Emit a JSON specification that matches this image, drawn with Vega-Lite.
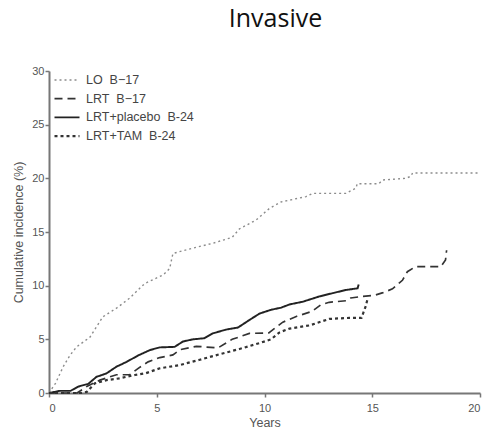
{
  "$schema": "https://vega.github.io/schema/vega-lite/v6.json",
  "width": 431,
  "height": 322,
  "autosize": "none",
  "padding": {"left": 49, "top": 71, "right": 6, "bottom": 38},
  "background": "white",
  "title": {"text": "Invasive", "font": "Open Sans", "fontSize": 25, "fontWeight": "normal", "color": "#111", "anchor": "middle", "dx": 11, "offset": 33},
  "datasets": {
    "curves": [
      {"series": "LO\u00a0\u00a0B\u221217", "years": 0, "pct": 0},
      {"series": "LO\u00a0\u00a0B\u221217", "years": 0.3, "pct": 0.9},
      {"series": "LO\u00a0\u00a0B\u221217", "years": 0.66, "pct": 2.45},
      {"series": "LO\u00a0\u00a0B\u221217", "years": 0.97, "pct": 3.5},
      {"series": "LO\u00a0\u00a0B\u221217", "years": 1.28, "pct": 4.3},
      {"series": "LO\u00a0\u00a0B\u221217", "years": 1.9, "pct": 5.2},
      {"series": "LO\u00a0\u00a0B\u221217", "years": 2.5, "pct": 7.1},
      {"series": "LO\u00a0\u00a0B\u221217", "years": 3.13, "pct": 7.9},
      {"series": "LO\u00a0\u00a0B\u221217", "years": 3.75, "pct": 8.85},
      {"series": "LO\u00a0\u00a0B\u221217", "years": 4.44, "pct": 10.2},
      {"series": "LO\u00a0\u00a0B\u221217", "years": 5.3, "pct": 11.0},
      {"series": "LO\u00a0\u00a0B\u221217", "years": 5.6, "pct": 11.6},
      {"series": "LO\u00a0\u00a0B\u221217", "years": 5.75, "pct": 13.0},
      {"series": "LO\u00a0\u00a0B\u221217", "years": 6.68, "pct": 13.5},
      {"series": "LO\u00a0\u00a0B\u221217", "years": 7.6, "pct": 13.95},
      {"series": "LO\u00a0\u00a0B\u221217", "years": 8.5, "pct": 14.5},
      {"series": "LO\u00a0\u00a0B\u221217", "years": 8.84, "pct": 15.3},
      {"series": "LO\u00a0\u00a0B\u221217", "years": 9.6, "pct": 16.1},
      {"series": "LO\u00a0\u00a0B\u221217", "years": 10.23, "pct": 17.2},
      {"series": "LO\u00a0\u00a0B\u221217", "years": 10.77, "pct": 17.8},
      {"series": "LO\u00a0\u00a0B\u221217", "years": 11.93, "pct": 18.3},
      {"series": "LO\u00a0\u00a0B\u221217", "years": 12.24, "pct": 18.6},
      {"series": "LO\u00a0\u00a0B\u221217", "years": 13.78, "pct": 18.6},
      {"series": "LO\u00a0\u00a0B\u221217", "years": 14.25, "pct": 19.1},
      {"series": "LO\u00a0\u00a0B\u221217", "years": 14.3, "pct": 19.5},
      {"series": "LO\u00a0\u00a0B\u221217", "years": 15.3, "pct": 19.5},
      {"series": "LO\u00a0\u00a0B\u221217", "years": 15.5, "pct": 19.85},
      {"series": "LO\u00a0\u00a0B\u221217", "years": 16.56, "pct": 20.0},
      {"series": "LO\u00a0\u00a0B\u221217", "years": 16.8, "pct": 20.2},
      {"series": "LO\u00a0\u00a0B\u221217", "years": 16.87, "pct": 20.5},
      {"series": "LO\u00a0\u00a0B\u221217", "years": 19.9, "pct": 20.5},

      {"series": "LRT\u00a0\u00a0B\u221217", "years": 0, "pct": 0},
      {"series": "LRT\u00a0\u00a0B\u221217", "years": 1.3, "pct": 0},
      {"series": "LRT\u00a0\u00a0B\u221217", "years": 1.75, "pct": 0.6},
      {"series": "LRT\u00a0\u00a0B\u221217", "years": 2.36, "pct": 1.2},
      {"series": "LRT\u00a0\u00a0B\u221217", "years": 3.13, "pct": 1.7},
      {"series": "LRT\u00a0\u00a0B\u221217", "years": 3.75, "pct": 1.7},
      {"series": "LRT\u00a0\u00a0B\u221217", "years": 4.14, "pct": 2.3},
      {"series": "LRT\u00a0\u00a0B\u221217", "years": 4.6, "pct": 2.9},
      {"series": "LRT\u00a0\u00a0B\u221217", "years": 5.14, "pct": 3.3},
      {"series": "LRT\u00a0\u00a0B\u221217", "years": 5.75, "pct": 3.55},
      {"series": "LRT\u00a0\u00a0B\u221217", "years": 6.1, "pct": 4.05},
      {"series": "LRT\u00a0\u00a0B\u221217", "years": 6.84, "pct": 4.35},
      {"series": "LRT\u00a0\u00a0B\u221217", "years": 7.84, "pct": 4.2},
      {"series": "LRT\u00a0\u00a0B\u221217", "years": 8.5, "pct": 5.0},
      {"series": "LRT\u00a0\u00a0B\u221217", "years": 9.3, "pct": 5.55},
      {"series": "LRT\u00a0\u00a0B\u221217", "years": 10.2, "pct": 5.6},
      {"series": "LRT\u00a0\u00a0B\u221217", "years": 10.85, "pct": 6.6},
      {"series": "LRT\u00a0\u00a0B\u221217", "years": 11.5, "pct": 7.15},
      {"series": "LRT\u00a0\u00a0B\u221217", "years": 12.2, "pct": 7.6},
      {"series": "LRT\u00a0\u00a0B\u221217", "years": 12.6, "pct": 8.2},
      {"series": "LRT\u00a0\u00a0B\u221217", "years": 13.0, "pct": 8.45},
      {"series": "LRT\u00a0\u00a0B\u221217", "years": 13.8, "pct": 8.6},
      {"series": "LRT\u00a0\u00a0B\u221217", "years": 14.0, "pct": 8.85},
      {"series": "LRT\u00a0\u00a0B\u221217", "years": 14.55, "pct": 9.0},
      {"series": "LRT\u00a0\u00a0B\u221217", "years": 15.1, "pct": 9.1},
      {"series": "LRT\u00a0\u00a0B\u221217", "years": 15.5, "pct": 9.35},
      {"series": "LRT\u00a0\u00a0B\u221217", "years": 15.94, "pct": 9.7},
      {"series": "LRT\u00a0\u00a0B\u221217", "years": 16.4, "pct": 10.5},
      {"series": "LRT\u00a0\u00a0B\u221217", "years": 16.63, "pct": 11.3},
      {"series": "LRT\u00a0\u00a0B\u221217", "years": 17.0, "pct": 11.77},
      {"series": "LRT\u00a0\u00a0B\u221217", "years": 18.18, "pct": 11.77},
      {"series": "LRT\u00a0\u00a0B\u221217", "years": 18.4, "pct": 12.4},
      {"series": "LRT\u00a0\u00a0B\u221217", "years": 18.45, "pct": 13.3},

      {"series": "LRT+placebo\u00a0\u00a0B-24", "years": 0, "pct": 0},
      {"series": "LRT+placebo\u00a0\u00a0B-24", "years": 0.5, "pct": 0.2},
      {"series": "LRT+placebo\u00a0\u00a0B-24", "years": 1.0, "pct": 0.2},
      {"series": "LRT+placebo\u00a0\u00a0B-24", "years": 1.36, "pct": 0.6},
      {"series": "LRT+placebo\u00a0\u00a0B-24", "years": 1.82, "pct": 0.85},
      {"series": "LRT+placebo\u00a0\u00a0B-24", "years": 2.2, "pct": 1.5},
      {"series": "LRT+placebo\u00a0\u00a0B-24", "years": 2.67, "pct": 1.83},
      {"series": "LRT+placebo\u00a0\u00a0B-24", "years": 3.13, "pct": 2.45},
      {"series": "LRT+placebo\u00a0\u00a0B-24", "years": 3.6, "pct": 2.9},
      {"series": "LRT+placebo\u00a0\u00a0B-24", "years": 4.14, "pct": 3.5},
      {"series": "LRT+placebo\u00a0\u00a0B-24", "years": 4.68, "pct": 4.0},
      {"series": "LRT+placebo\u00a0\u00a0B-24", "years": 5.14, "pct": 4.25},
      {"series": "LRT+placebo\u00a0\u00a0B-24", "years": 5.83, "pct": 4.3},
      {"series": "LRT+placebo\u00a0\u00a0B-24", "years": 6.22, "pct": 4.8},
      {"series": "LRT+placebo\u00a0\u00a0B-24", "years": 6.68, "pct": 5.0},
      {"series": "LRT+placebo\u00a0\u00a0B-24", "years": 7.2, "pct": 5.1},
      {"series": "LRT+placebo\u00a0\u00a0B-24", "years": 7.6, "pct": 5.55},
      {"series": "LRT+placebo\u00a0\u00a0B-24", "years": 8.2, "pct": 5.9},
      {"series": "LRT+placebo\u00a0\u00a0B-24", "years": 8.77, "pct": 6.1},
      {"series": "LRT+placebo\u00a0\u00a0B-24", "years": 9.3, "pct": 6.8},
      {"series": "LRT+placebo\u00a0\u00a0B-24", "years": 9.77, "pct": 7.4},
      {"series": "LRT+placebo\u00a0\u00a0B-24", "years": 10.3, "pct": 7.75},
      {"series": "LRT+placebo\u00a0\u00a0B-24", "years": 10.77, "pct": 7.95},
      {"series": "LRT+placebo\u00a0\u00a0B-24", "years": 11.16, "pct": 8.25},
      {"series": "LRT+placebo\u00a0\u00a0B-24", "years": 11.77, "pct": 8.5},
      {"series": "LRT+placebo\u00a0\u00a0B-24", "years": 12.55, "pct": 9.0},
      {"series": "LRT+placebo\u00a0\u00a0B-24", "years": 13.16, "pct": 9.3},
      {"series": "LRT+placebo\u00a0\u00a0B-24", "years": 13.78, "pct": 9.6},
      {"series": "LRT+placebo\u00a0\u00a0B-24", "years": 14.32, "pct": 9.75},
      {"series": "LRT+placebo\u00a0\u00a0B-24", "years": 14.37, "pct": 10.1},

      {"series": "LRT+TAM\u00a0\u00a0B-24", "years": 0, "pct": 0},
      {"series": "LRT+TAM\u00a0\u00a0B-24", "years": 1.5, "pct": 0},
      {"series": "LRT+TAM\u00a0\u00a0B-24", "years": 1.75, "pct": 0.1},
      {"series": "LRT+TAM\u00a0\u00a0B-24", "years": 2.13, "pct": 0.9},
      {"series": "LRT+TAM\u00a0\u00a0B-24", "years": 2.67, "pct": 1.2},
      {"series": "LRT+TAM\u00a0\u00a0B-24", "years": 3.29, "pct": 1.37},
      {"series": "LRT+TAM\u00a0\u00a0B-24", "years": 3.98, "pct": 1.68},
      {"series": "LRT+TAM\u00a0\u00a0B-24", "years": 4.5, "pct": 1.85},
      {"series": "LRT+TAM\u00a0\u00a0B-24", "years": 5.14, "pct": 2.3},
      {"series": "LRT+TAM\u00a0\u00a0B-24", "years": 6.06, "pct": 2.6},
      {"series": "LRT+TAM\u00a0\u00a0B-24", "years": 7.0, "pct": 3.1},
      {"series": "LRT+TAM\u00a0\u00a0B-24", "years": 7.9, "pct": 3.6},
      {"series": "LRT+TAM\u00a0\u00a0B-24", "years": 8.84, "pct": 4.1},
      {"series": "LRT+TAM\u00a0\u00a0B-24", "years": 9.77, "pct": 4.65},
      {"series": "LRT+TAM\u00a0\u00a0B-24", "years": 10.3, "pct": 5.0},
      {"series": "LRT+TAM\u00a0\u00a0B-24", "years": 10.7, "pct": 5.65},
      {"series": "LRT+TAM\u00a0\u00a0B-24", "years": 11.16, "pct": 6.0},
      {"series": "LRT+TAM\u00a0\u00a0B-24", "years": 12.1, "pct": 6.3},
      {"series": "LRT+TAM\u00a0\u00a0B-24", "years": 13.0, "pct": 6.9},
      {"series": "LRT+TAM\u00a0\u00a0B-24", "years": 13.94, "pct": 7.0},
      {"series": "LRT+TAM\u00a0\u00a0B-24", "years": 14.5, "pct": 7.0},
      {"series": "LRT+TAM\u00a0\u00a0B-24", "years": 14.7, "pct": 8.1},
      {"series": "LRT+TAM\u00a0\u00a0B-24", "years": 14.78, "pct": 8.75}
    ]
  },
  "data": {"name": "curves"},
  "mark": {"type": "line", "interpolate": "linear", "strokeCap": "butt"},
  "encoding": {
    "x": {
      "field": "years", "type": "quantitative",
      "scale": {"domain": [0, 20], "nice": false},
      "axis": {"title": "Years", "values": [0, 5, 10, 15, 20], "grid": false, "tickSize": 4, "domainColor": "#777", "domainWidth": 2, "tickColor": "#777", "tickWidth": 1.5, "labelFont": "Liberation Sans", "labelFontSize": 11, "labelColor": "#555", "labelPadding": 5, "titleFont": "Liberation Sans", "titleFontSize": 12.5, "titleFontWeight": "normal", "titleColor": "#555", "titlePadding": 3}
    },
    "y": {
      "field": "pct", "type": "quantitative",
      "scale": {"domain": [0, 30], "nice": false},
      "axis": {"title": "Cumulative incidence (%)", "values": [0, 5, 10, 15, 20, 25, 30], "grid": false, "tickSize": 4, "domainColor": "#777", "domainWidth": 2, "tickColor": "#777", "tickWidth": 1.5, "labelFont": "Liberation Sans", "labelFontSize": 11, "labelColor": "#555", "labelPadding": 1, "titleFont": "Liberation Sans", "titleFontSize": 12.5, "titleFontWeight": "normal", "titleColor": "#555", "titlePadding": 6}
    },
    "color": {
      "field": "series", "type": "ordinal",
      "scale": {"domain": ["LO\u00a0\u00a0B\u221217", "LRT\u00a0\u00a0B\u221217", "LRT+placebo\u00a0\u00a0B-24", "LRT+TAM\u00a0\u00a0B-24"], "range": ["#8c8c8c", "#333333", "#222222", "#333333"]},
      "legend": {"title": null, "orient": "none", "legendX": 4, "legendY": 1, "labelFont": "Liberation Sans", "labelFontSize": 12.5, "labelColor": "#444", "labelOffset": 5, "symbolType": "stroke", "symbolSize": 625, "clipHeight": 16, "rowPadding": 2.7, "padding": 0}
    },
    "strokeDash": {
      "field": "series", "type": "ordinal",
      "scale": {"domain": ["LO\u00a0\u00a0B\u221217", "LRT\u00a0\u00a0B\u221217", "LRT+placebo\u00a0\u00a0B-24", "LRT+TAM\u00a0\u00a0B-24"], "range": [[2, 3], [8, 5], [1, 0], [3, 3]]},
      "legend": {"title": null, "orient": "none", "legendX": 4, "legendY": 1, "labelFont": "Liberation Sans", "labelFontSize": 12.5, "labelColor": "#444", "labelOffset": 5, "symbolType": "stroke", "symbolSize": 625, "clipHeight": 16, "rowPadding": 2.7, "padding": 0}
    },
    "strokeWidth": {
      "field": "series", "type": "ordinal",
      "scale": {"domain": ["LO\u00a0\u00a0B\u221217", "LRT\u00a0\u00a0B\u221217", "LRT+placebo\u00a0\u00a0B-24", "LRT+TAM\u00a0\u00a0B-24"], "range": [1.4, 2.2, 2.2, 2.2]},
      "legend": {"title": null, "orient": "none", "legendX": 4, "legendY": 1, "labelFont": "Liberation Sans", "labelFontSize": 12.5, "labelColor": "#444", "labelOffset": 5, "symbolType": "stroke", "symbolSize": 625, "clipHeight": 16, "rowPadding": 2.7, "padding": 0}
    }
  },
  "config": {"view": {"stroke": null}}
}
